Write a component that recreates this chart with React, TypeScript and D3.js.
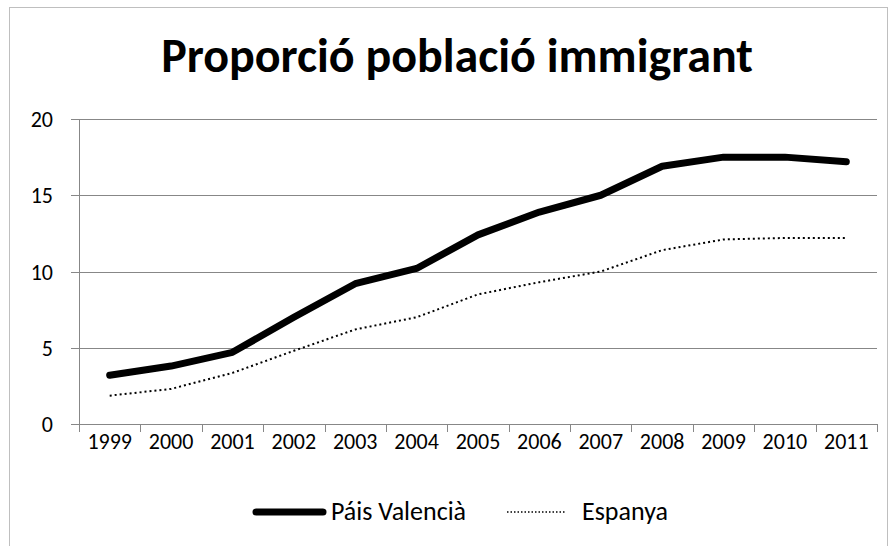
import React, { useEffect, useRef } from 'react';
import * as d3 from 'd3';

const years = ['1999', '2000', '2001', '2002', '2003', '2004', '2005', '2006', '2007', '2008', '2009', '2010', '2011'];
const paisValencia = [3.2, 3.8, 4.7, 7.0, 9.2, 10.2, 12.4, 13.9, 15.0, 16.9, 17.5, 17.5, 17.2];
const espanya = [1.86, 2.3, 3.35, 4.8, 6.2, 7.0, 8.5, 9.3, 10.0, 11.4, 12.1, 12.2, 12.2];
const yTicks = [0, 5, 10, 15, 20];

const FONT = 'Carlito, Calibri, Lato, sans-serif';

const App: React.FC = () => {
  const svgRef = useRef<SVGSVGElement>(null);

  useEffect(() => {
    if (!svgRef.current) return;
    const svg = d3.select(svgRef.current);
    svg.selectAll('*').remove();

    const left = 79, right = 877, top = 119, bottom = 424;

    // chart frame
    svg.append('rect')
      .attr('x', 9.5).attr('y', 7.5)
      .attr('width', 878).attr('height', 600)
      .attr('fill', 'white').attr('stroke', '#bfbfbf');

    svg.append('text')
      .attr('x', 457).attr('y', 72)
      .attr('text-anchor', 'middle')
      .style('font-family', FONT).style('font-weight', 'bold').style('font-size', '48px')
      .text('Proporció població immigrant');

    const x = d3.scaleBand<string>().domain(years).range([left, right]);
    const y = d3.scaleLinear().domain([0, 20]).range([bottom, top]);

    const g = svg.append('g');

    g.selectAll('.grid')
      .data(yTicks)
      .enter().append('line')
      .attr('x1', left - 8).attr('x2', right)
      .attr('y1', d => Math.round(y(d)) + 0.5).attr('y2', d => Math.round(y(d)) + 0.5)
      .attr('stroke', '#878787');

    g.append('line')
      .attr('x1', left + 0.5).attr('x2', left + 0.5)
      .attr('y1', top).attr('y2', bottom + 8)
      .attr('stroke', '#878787');

    const tickXs = years.map(d => (x(d) as number) + x.bandwidth());
    g.selectAll('.xtick')
      .data(tickXs)
      .enter().append('line')
      .attr('x1', d => Math.round(d) + 0.5).attr('x2', d => Math.round(d) + 0.5)
      .attr('y1', bottom).attr('y2', bottom + 8)
      .attr('stroke', '#878787');

    g.selectAll('.ylab')
      .data(yTicks)
      .enter().append('text')
      .attr('x', 53).attr('y', d => y(d) + 8)
      .attr('text-anchor', 'end')
      .style('font-family', FONT).style('font-size', '22px')
      .text(d => d);

    g.selectAll('.xlab')
      .data(years)
      .enter().append('text')
      .attr('x', d => (x(d) as number) + x.bandwidth() / 2)
      .attr('y', 449)
      .attr('text-anchor', 'middle')
      .style('font-family', FONT).style('font-size', '22px')
      .text(d => d);

    const line = d3.line<number>()
      .x((_, i) => (x(years[i]) as number) + x.bandwidth() / 2)
      .y(d => y(d));

    g.append('path')
      .datum(espanya)
      .attr('d', line)
      .attr('fill', 'none').attr('stroke', '#000')
      .attr('stroke-width', 2).attr('stroke-dasharray', '2,3');

    g.append('path')
      .datum(paisValencia)
      .attr('d', line)
      .attr('fill', 'none').attr('stroke', '#000')
      .attr('stroke-width', 7).attr('stroke-linecap', 'round').attr('stroke-linejoin', 'round');

    // legend
    const legendY = 512;
    svg.append('line')
      .attr('x1', 256).attr('x2', 323).attr('y1', legendY).attr('y2', legendY)
      .attr('stroke', '#000').attr('stroke-width', 7).attr('stroke-linecap', 'round');
    svg.append('text')
      .attr('x', 331).attr('y', 520)
      .style('font-family', FONT).style('font-size', '26px')
      .text('Páis Valencià');
    svg.append('line')
      .attr('x1', 507).attr('x2', 566).attr('y1', legendY).attr('y2', legendY)
      .attr('stroke', '#000').attr('stroke-width', 1.5).attr('stroke-dasharray', '1.5,2');
    svg.append('text')
      .attr('x', 582).attr('y', 520)
      .style('font-family', FONT).style('font-size', '26px')
      .text('Espanya');
  }, []);

  return (
    <svg ref={svgRef} width={896} height={546}
      style={{ position: 'absolute', left: 0, top: 0, background: 'white' }} />
  );
};

export default App;
